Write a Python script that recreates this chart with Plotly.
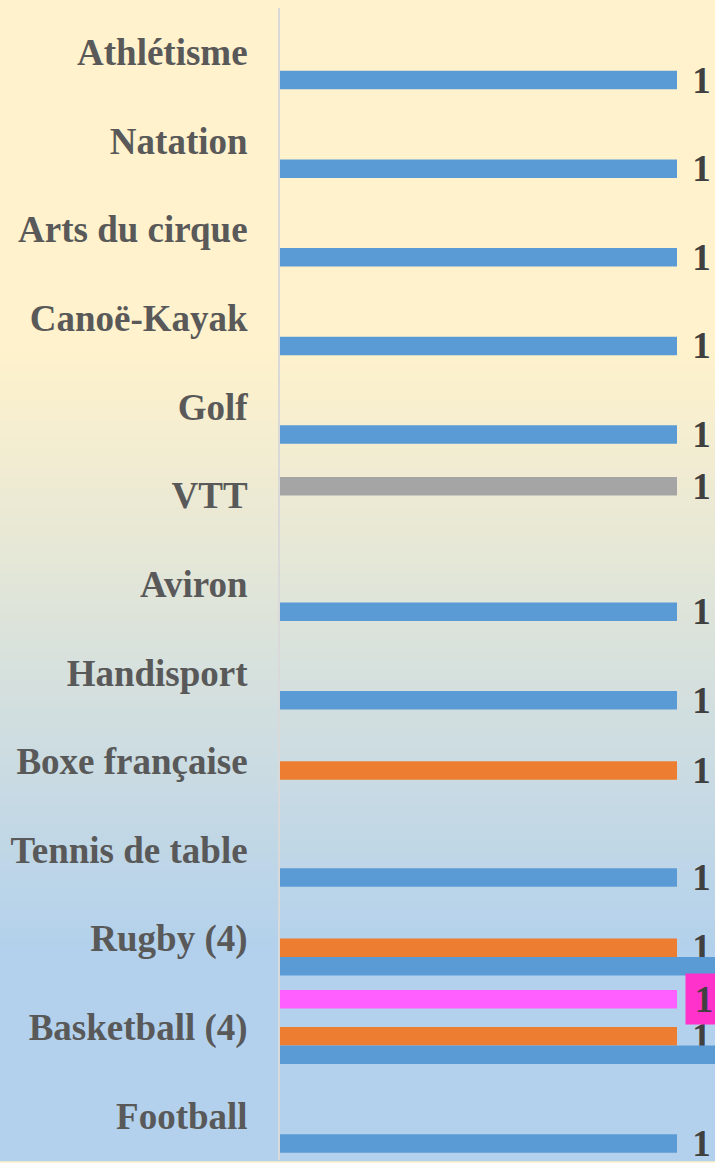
import plotly.graph_objects as go

# ---- data ----
categories = ["Athlétisme", "Natation", "Arts du cirque", "Canoë-Kayak", "Golf", "VTT",
              "Aviron", "Handisport", "Boxe française", "Tennis de table",
              "Rugby (4)", "Basketball (4)", "Football"]
blue_values = [1, 1, 1, 1, 1, None, 1, 1, None, 1, 3, 3, 1]
orange_values = [None, None, None, None, None, None, None, None, 1, None, 1, 1, None]
gray_values = [None, None, None, None, None, 1, None, None, None, None, None, None, None]
pink_values = [None, None, None, None, None, None, None, None, None, None, None, 1, None]

# ---- style ----
W, H = 715, 1163
ML, MR, MT, MB = 280, 0, 8, 3
FONT = "Liberation Serif, Times New Roman, serif"
LABEL_COLOR = "#404040"
TICK_COLOR = "#595959"
PAD = "\u00a0\u200a"

def labels(vals, hide_above=1.05):
    txt, pos = [], []
    for v in vals:
        if v is None or v > hide_above:
            txt.append("")
            pos.append("none")
        else:
            txt.append(PAD + f"{v:g}")
            pos.append("outside")
    return txt, pos

fig = go.Figure()

series = [
    ("Pink", pink_values, "#FF5FFF", False),
    ("Gray", gray_values, "#A5A5A5", True),
    ("Orange", orange_values, "#ED7D31", True),
    ("Blue", blue_values, "#5B9BD5", True),
]
for name, vals, color, show_text in series:
    txt, pos = labels(vals)
    if not show_text:
        pos = ["none"] * len(vals)
    fig.add_trace(go.Bar(
        name=name, y=categories, x=vals, orientation="h",
        marker=dict(color=color, line=dict(width=0)),
        text=txt, textposition=pos, constraintext="none",
        textfont=dict(family=FONT, size=37, color=LABEL_COLOR, weight="bold"),
        cliponaxis=False, hoverinfo="skip", showlegend=False,
    ))

# highlighted label for the pink series
slot_px = (H - MT - MB) / len(categories) * (1 - 0.165) / 4
for cat, v in zip(categories, pink_values):
    if v is not None:
        fig.add_annotation(
            x=v, y=cat, xref="x", yref="y", text=f"{v:g}",
            showarrow=False, xanchor="left", yanchor="middle",
            xshift=8, yshift=1.5 * slot_px,
            width=36, height=50, align="center", valign="middle",
            bgcolor="#FF33CC", borderpad=0,
            font=dict(family=FONT, size=37, color=LABEL_COLOR, weight="bold"),
        )

# gradient background (cream -> light blue)
c0 = (0xFF, 0xF2, 0xCC)
c1 = (0xB3, 0xD1, 0xEC)
g_start, g_end = 0.30, 0.82
N = 120
for i in range(N):
    t0, t1 = i / N, (i + 1) / N
    tm = (t0 + t1) / 2
    f = min(max((tm - g_start) / (g_end - g_start), 0), 1)
    col = tuple(round(a + (b - a) * f) for a, b in zip(c0, c1))
    fig.add_shape(type="rect", xref="paper", yref="paper",
                  x0=-0.7, x1=1.05, y0=1 - t1 - 0.001, y1=1 - t0 + 0.001,
                  fillcolor="rgb(%d,%d,%d)" % col,
                  line=dict(width=0), layer="below")

x_max = (W - ML) / (677 - ML)
fig.update_layout(
    width=W, height=H,
    margin=dict(l=ML, r=MR, t=MT, b=MB, pad=0),
    paper_bgcolor="#FFF2CC", plot_bgcolor="rgba(0,0,0,0)",
    barmode="group", bargap=0.165, bargroupgap=0,
    xaxis=dict(range=[0, x_max], showticklabels=False, showgrid=False,
               zeroline=False, showline=False, fixedrange=True),
    yaxis=dict(categoryorder="array", categoryarray=categories, autorange="reversed",
               showgrid=False, zeroline=False, showline=True, linecolor="#D9D9D9",
               linewidth=2, ticks="", ticklabelstandoff=23, fixedrange=True,
               tickfont=dict(family=FONT, size=37, color=TICK_COLOR, weight="bold")),
    showlegend=False,
)

fig.write_html("out.html", config={"displayModeBar": False, "staticPlot": True},
               post_script="document.body.style.margin='0';document.body.style.padding='0';document.body.style.overflow='hidden';")
